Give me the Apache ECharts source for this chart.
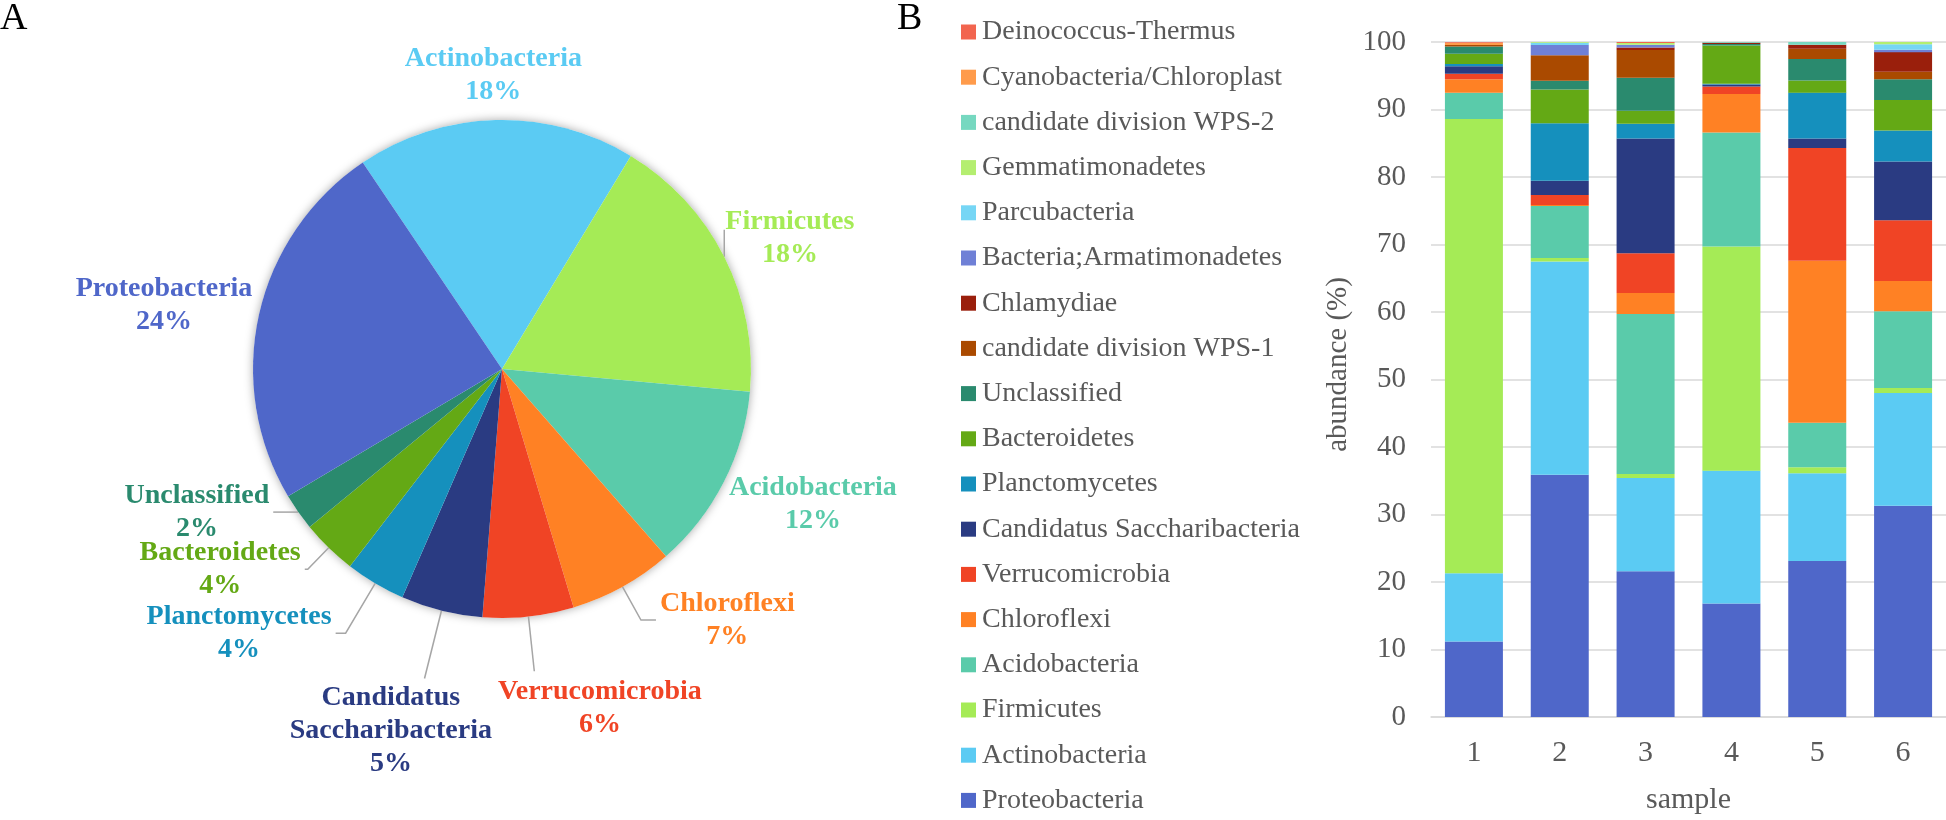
<!DOCTYPE html>
<html>
<head>
<meta charset="utf-8">
<script src="https://cdn.jsdelivr.net/npm/echarts@6/dist/echarts.min.js"></script>
<style>
html,body{margin:0;padding:0;background:#ffffff;}
#chart{width:1946px;height:820px;}
</style>
</head>
<body>
<div id="chart"></div>
<script>
// ---------------- DATA ----------------
// Panel A: pie (clockwise from the Proteobacteria/Actinobacteria border)
const pieNames = ['Actinobacteria', 'Firmicutes', 'Acidobacteria', 'Chloroflexi', 'Verrucomicrobia',
  'Candidatus Saccharibacteria', 'Planctomycetes', 'Bacteroidetes', 'Unclassified', 'Proteobacteria'];
const pieValues = [18.1, 17.8, 12.1, 6.8, 5.9, 5.3, 3.9, 3.6, 2.4, 24.1];

// Panel B: stacked bars (relative abundance %, samples 1..6)
const samples = ['1', '2', '3', '4', '5', '6'];
const Proteobacteria = [11.2, 35.9, 21.6, 16.8, 23.1, 31.3];
const Actinobacteria = [10.1, 31.6, 13.8, 19.7, 13.0, 16.7];
const Firmicutes = [67.3, 0.5, 0.6, 33.2, 0.9, 0.75];
const Acidobacteria = [3.9, 7.7, 23.7, 16.9, 6.6, 11.35];
const Chloroflexi = [2.0, 0.15, 3.1, 5.7, 24.0, 4.5];
const Verrucomicrobia = [0.8, 1.5, 5.9, 1.1, 16.7, 9.0];
const CandidatusSaccharibacteria = [1.1, 2.1, 17.0, 0.3, 1.4, 8.7];
const Planctomycetes = [0.35, 8.5, 2.2, 0.1, 6.8, 4.6];
const Bacteroidetes = [1.5, 5.0, 1.9, 5.7, 1.8, 4.5];
const Unclassified = [1.1, 1.3, 4.9, 0.2, 3.2, 3.1];
const WPS1 = [0.2, 3.8, 4.1, 0, 1.5, 1.1];
const Chlamydiae = [0, 0, 0.4, 0.2, 0.6, 2.9];
const Armatimonadetes = [0, 1.5, 0.4, 0, 0, 0.35];
const Parcubacteria = [0, 0.35, 0, 0, 0, 0.8];
const Gemmatimonadetes = [0, 0.1, 0.25, 0, 0, 0.35];
const WPS2 = [0, 0, 0, 0.15, 0.5, 0];
const Cyanobacteria = [0.35, 0, 0, 0, 0, 0];
const Deinococcus = [0.1, 0, 0.25, 0, 0, 0];

const yMin = 0, yMax = 100, yStep = 10;

// stacking order, bottom to top
const barSeriesList = [
  ['Proteobacteria', Proteobacteria],
  ['Actinobacteria', Actinobacteria],
  ['Firmicutes', Firmicutes],
  ['Acidobacteria', Acidobacteria],
  ['Chloroflexi', Chloroflexi],
  ['Verrucomicrobia', Verrucomicrobia],
  ['Candidatus Saccharibacteria', CandidatusSaccharibacteria],
  ['Planctomycetes', Planctomycetes],
  ['Bacteroidetes', Bacteroidetes],
  ['Unclassified', Unclassified],
  ['candidate division WPS-1', WPS1],
  ['Chlamydiae', Chlamydiae],
  ['Bacteria;Armatimonadetes', Armatimonadetes],
  ['Parcubacteria', Parcubacteria],
  ['Gemmatimonadetes', Gemmatimonadetes],
  ['candidate division WPS-2', WPS2],
  ['Cyanobacteria/Chloroplast', Cyanobacteria],
  ['Deinococcus-Thermus', Deinococcus]
];

// ---------------- STYLE ----------------
const colors = {
  'Proteobacteria': '#4F67C9',
  'Actinobacteria': '#5BCBF3',
  'Firmicutes': '#A5EB56',
  'Acidobacteria': '#5ACBAA',
  'Chloroflexi': '#FF8124',
  'Verrucomicrobia': '#F04425',
  'Candidatus Saccharibacteria': '#2A3B82',
  'Planctomycetes': '#1590BD',
  'Bacteroidetes': '#64A915',
  'Unclassified': '#2A8A6E',
  'candidate division WPS-1': '#AA4A00',
  'Chlamydiae': '#9A1F0C',
  'Bacteria;Armatimonadetes': '#6F80D6',
  'Parcubacteria': '#76D6F5',
  'Gemmatimonadetes': '#B4EE70',
  'candidate division WPS-2': '#76D8C0',
  'Cyanobacteria/Chloroplast': '#FF9B4B',
  'Deinococcus-Thermus': '#F2654F'
};

const SERIF = 'Liberation Serif, Times New Roman, serif';
const PIE_CENTER = [502, 369];
const PIE_R = 249;
const PIE_START = 124;

// label leader layout per slice (len: radial part, len2: horizontal part, up: vertical part)
const pieLabelPlacement = {
  'Actinobacteria': { len: 8, len2: 0, line: false },
  'Firmicutes': { len: 5, len2: 0, line: true, up: 27 },
  'Acidobacteria': { len: 12, len2: 0, line: false },
  'Chloroflexi': { len: 38, len2: 15, line: true },
  'Verrucomicrobia': { len: 55, len2: 0, line: true, kx: 0.62 },
  'Candidatus Saccharibacteria': { len: 70, len2: 0, line: true, kx: -0.32 },
  'Planctomycetes': { len: 58, len2: 10, line: true },
  'Bacteroidetes': { len: 30, len2: 3, line: true },
  'Unclassified': { len: 0, len2: 25, line: true },
  'Proteobacteria': { len: 5, len2: 0, line: false }
};

// mid-angle direction of every slice (same convention as the pie: clockwise from PIE_START)
const pieTotal = pieValues.reduce((a, b) => a + b, 0);
const pieMidDir = [];
(function () {
  let acc = 0;
  pieValues.forEach(v => {
    const a = (PIE_START - (acc + v / 2) / pieTotal * 360) * Math.PI / 180;
    pieMidDir.push([Math.cos(a), -Math.sin(a)]);
    acc += v;
  });
})();

const pieData = pieNames.map((n, i) => ({
  name: n,
  value: pieValues[i],
  itemStyle: { color: colors[n] },
  label: { color: colors[n] },
  labelLine: { show: pieLabelPlacement[n].line }
}));

const barSeries = barSeriesList.map(([name, arr]) => ({
  name: name,
  type: 'bar',
  stack: 'abundance',
  xAxisIndex: 0,
  yAxisIndex: 0,
  barWidth: 58,
  data: arr,
  itemStyle: { color: colors[name] },
  emphasis: { disabled: true }
}));

const legendNames = barSeriesList.map(s => s[0]).slice().reverse();

const option = {
  animation: false,
  backgroundColor: '#ffffff',
  title: [
    { text: 'A', left: 0, top: 0, padding: 0,
      textStyle: { fontFamily: SERIF, fontSize: 38, fontWeight: 'normal', color: '#000000' } },
    { text: 'B', left: 897, top: 0, padding: 0,
      textStyle: { fontFamily: SERIF, fontSize: 38, fontWeight: 'normal', color: '#000000' } }
  ],
  legend: {
    orient: 'vertical',
    left: 961,
    top: 18,
    height: 802,
    padding: 0,
    itemWidth: 15,
    itemHeight: 15,
    itemGap: 17.2,
    icon: 'rect',
    selectedMode: false,
    data: legendNames,
    textStyle: { fontFamily: SERIF, fontSize: 28, lineHeight: 28, color: '#595959', padding: [0, 0, 0, 1] }
  },
  grid: { left: 1431, right: 0, top: 42, bottom: 98, containLabel: false },
  xAxis: {
    type: 'category',
    data: samples,
    axisLine: { lineStyle: { color: '#D9D9D9', width: 1.5 } },
    axisTick: { show: false },
    axisLabel: { fontFamily: SERIF, fontSize: 30, color: '#595959', margin: 21 },
    name: 'sample',
    nameLocation: 'middle',
    nameGap: 68,
    nameTextStyle: { fontFamily: SERIF, fontSize: 30, color: '#595959' }
  },
  yAxis: {
    type: 'value',
    min: yMin,
    max: yMax,
    interval: yStep,
    axisLine: { show: false },
    axisTick: { show: false },
    splitLine: { lineStyle: { color: '#D9D9D9', width: 1.5 } },
    axisLabel: { fontFamily: SERIF, fontSize: 29, color: '#595959', margin: 25 },
    name: 'abundance (%)',
    nameLocation: 'middle',
    nameGap: 78,
    nameRotate: 90,
    nameTextStyle: { fontFamily: SERIF, fontSize: 29, color: '#595959', padding: [0, 0, 0, 30] }
  },
  series: [
    {
      type: 'pie',
      name: 'shadow',
      silent: true,
      center: PIE_CENTER,
      radius: PIE_R,
      z: 1,
      label: { show: false },
      labelLine: { show: false },
      itemStyle: { color: '#ffffff', shadowBlur: 10, shadowColor: 'rgba(0,0,0,0.35)' },
      data: [{ value: 1, name: '' }]
    },
    {
      type: 'pie',
      name: 'phylum',
      center: PIE_CENTER,
      radius: PIE_R,
      startAngle: PIE_START,
      clockwise: true,
      z: 2,
      percentPrecision: 0,
      avoidLabelOverlap: false,
      emphasis: { disabled: true },
      data: pieData,
      label: {
        show: true,
        position: 'outside',
        fontFamily: SERIF,
        fontWeight: 'bold',
        fontSize: 28,
        lineHeight: 33,
        formatter: function (p) {
          const lines = p.name.length > 20 ? p.name.split(' ') : [p.name];
          return lines.map(l => '{n|' + l + '}').join('\n') + '\n{n|' + p.percent + '%}';
        },
        rich: {
          n: { align: 'center', fontFamily: SERIF, fontWeight: 'bold', fontSize: 28, lineHeight: 33 }
        }
      },
      labelLine: { show: true, length: 10, length2: 10, lineStyle: { color: '#A6A6A6', width: 1.5 } },
      labelLayout: function (p) {
        const i = p.dataIndex;
        const cfg = pieLabelPlacement[pieNames[i]];
        const d = pieMidDir[i];
        const p0 = [PIE_CENTER[0] + d[0] * PIE_R, PIE_CENTER[1] + d[1] * PIE_R];
        const p1 = [p0[0] + d[0] * cfg.len, p0[1] + d[1] * cfg.len];
        const sx = d[0] < 0 ? -1 : 1;
        const p2 = [p1[0] + sx * cfg.len2, p1[1]];
        const w = p.labelRect.width, h = p.labelRect.height, g = 4;
        let cx, cy;
        if (cfg.len2 > 0) {
          cx = p2[0] + sx * (w / 2 + g);
          cy = p2[1];
        } else {
          const kx = cfg.kx != null ? cfg.kx : d[0];
          cx = p2[0] + kx * (w / 2 + g);
          cy = p2[1] + d[1] * (h / 2 + g);
        }
        const out = { x: cx, y: cy, align: 'center', verticalAlign: 'middle' };
        if (cfg.line) {
          out.labelLinePoints = cfg.up ? [p0, [p0[0], p0[1] - cfg.up], [p0[0], p0[1] - cfg.up]] : [p0, p1, p2];
        }
        return out;
      }
    }
  ].concat(barSeries)
};

const chart = echarts.init(document.getElementById('chart'), null, { renderer: 'canvas', width: 1946, height: 820 });
chart.setOption(option);
</script>
</body>
</html>
